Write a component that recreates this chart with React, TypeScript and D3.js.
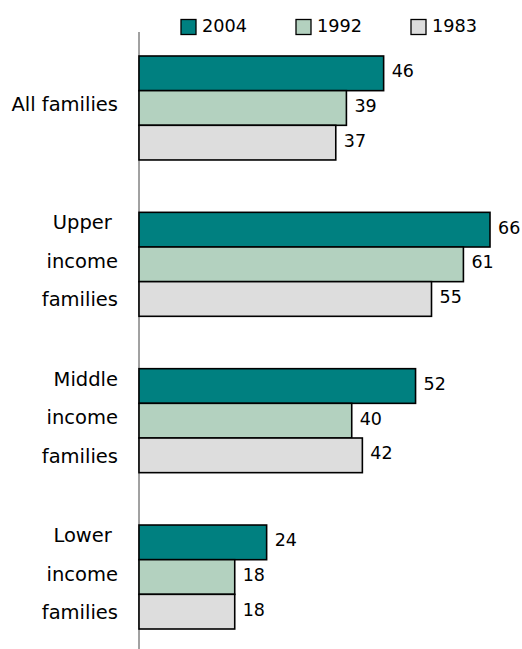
import React from "react";
import * as d3 from "d3";

const categories = ["All families", "Upper income families", "Middle income families", "Lower income families"];
const categoryLines = [["All families"], ["Upper ", "income", "families"], ["Middle", "income", "families"], ["Lower ", "income", "families"]];
const seriesNames = ["2004", "1992", "1983"];
const values2004 = [46, 66, 52, 24];
const values1992 = [39, 61, 40, 18];
const values1983 = [37, 55, 42, 18];
const seriesValues = [values2004, values1992, values1983];
const colors = ["#008080", "#B3D1BF", "#DDDDDD"];

const W = 522;
const H = 649;
const FONT = "'DejaVu Sans', Verdana, sans-serif";

export default function App() {
  const x = d3.scaleLinear().domain([0, 70]).range([139, 139 + 70 * (351 / 66)]);
  const y = d3.scaleBand<string>().domain(categories).range([56, 629]).paddingInner(0.335).paddingOuter(0);
  const yInner = d3.scaleBand<string>().domain(seriesNames).range([0, y.bandwidth()]).padding(0);

  const legendX = [181, 296, 411];

  return (
    <svg width={W} height={H} style={{ position: "absolute", left: 0, top: 0, background: "#fff" }} fontFamily={FONT}>
      {/* legend */}
      {seriesNames.map((s, i) => (
        <g key={s}>
          <rect x={legendX[i]} y={19.5} width={15} height={15} fill={colors[i]} stroke="#000" strokeWidth={1.3} />
          <text x={legendX[i] + 21} y={26} dominantBaseline="central" fontSize={17.7} fill="#000">
            {s}
          </text>
        </g>
      ))}
      {/* axis */}
      <line x1={139} x2={139} y1={32} y2={H} stroke="#444" strokeWidth={1} />
      {categories.map((c, ci) => {
        const gy = y(c)!;
        const center = gy + y.bandwidth() / 2;
        const lines = categoryLines[ci];
        return (
          <g key={c}>
            {lines.map((ln, li) => (
              <text
                key={li}
                x={118}
                y={center - 3 + (li - (lines.length - 1) / 2) * 38.5}
                textAnchor="end"
                dominantBaseline="central"
                fontSize={19.5}
                fill="#000"
                style={{ whiteSpace: "pre" }}
              >
                {ln}
              </text>
            ))}
            {seriesNames.map((s, si) => {
              const v = seriesValues[si][ci];
              const by = gy + yInner(s)!;
              const bh = yInner.bandwidth();
              return (
                <g key={s}>
                  <rect x={x(0)} y={by} width={x(v) - x(0)} height={bh} fill={colors[si]} stroke="#000" strokeWidth={1.6} />
                  <text x={x(v) + 8} y={by + bh / 2 - 2} dominantBaseline="central" fontSize={17.5} fill="#000">
                    {v}
                  </text>
                </g>
              );
            })}
          </g>
        );
      })}
    </svg>
  );
}
